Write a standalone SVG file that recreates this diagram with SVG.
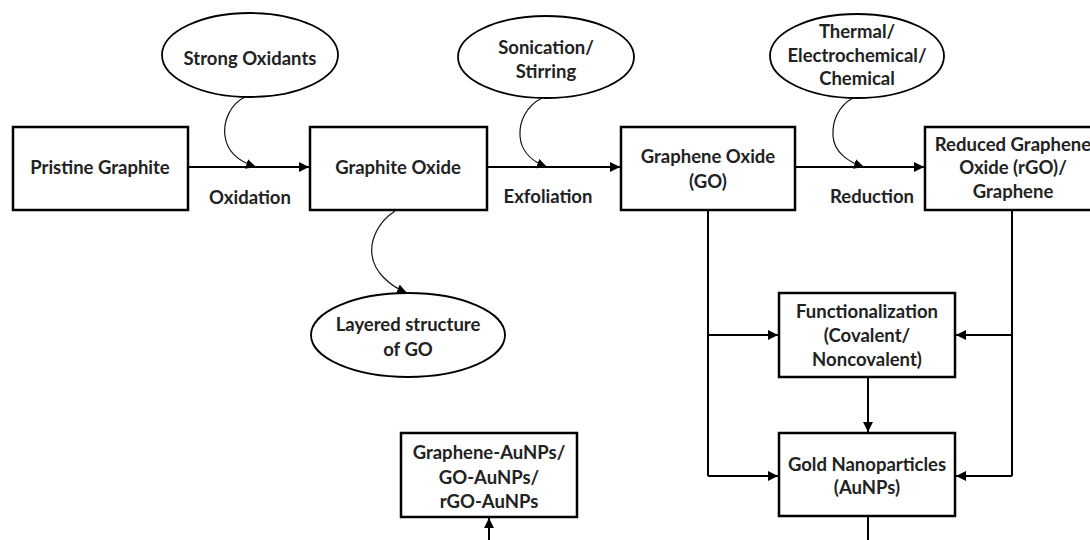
<svg xmlns="http://www.w3.org/2000/svg" width="1090" height="540" viewBox="0 0 1090 540">
<style>
.box{fill:#fff;stroke:#000;stroke-width:2.5}
.ell{fill:#fff;stroke:#000;stroke-width:1.8}
.t{font-family:Lato,"Open Sans",sans-serif;font-weight:bold;font-size:18.5px;fill:#222;text-anchor:middle}
.c{fill:none;stroke:#000;stroke-width:2}
.cv{fill:none;stroke:#111;stroke-width:1.2}
</style>
<defs>
<marker id="ah" viewBox="0 0 10 10" refX="10" refY="5" markerWidth="10" markerHeight="10" markerUnits="userSpaceOnUse" orient="auto"><path d="M0,0 L10,5 L0,10 z" fill="#000"/></marker>
</defs>
<rect width="1090" height="540" fill="#fff"/>
<g id="connectors">
<line class="c" x1="188" y1="167" x2="309" y2="167" marker-end="url(#ah)"/>
<line class="c" x1="487" y1="167" x2="620" y2="167" marker-end="url(#ah)"/>
<line class="c" x1="795" y1="167" x2="924" y2="167" marker-end="url(#ah)"/>
<path class="cv" d="M245,97 C230,104 223,122 225,136 C227,152 240,162 256,167" marker-end="url(#ah)"/>
<path class="cv" d="M542,98 C526,106 519,122 520,136 C521,152 533,162 547,167" marker-end="url(#ah)"/>
<path class="cv" d="M853,98 C838,106 832,122 833,136 C834,152 848,162 864,167" marker-end="url(#ah)"/>
<path class="cv" d="M395,211 C378,222 370,240 372,255 C374,272 390,286 407,293" marker-end="url(#ah)"/>
<polyline class="c" points="708,210 708,476"/>
<line class="c" x1="708" y1="335" x2="778" y2="335" marker-end="url(#ah)"/>
<line class="c" x1="708" y1="476" x2="778" y2="476" marker-end="url(#ah)"/>
<polyline class="c" points="1012,210 1012,476"/>
<line class="c" x1="1012" y1="335" x2="956" y2="335" marker-end="url(#ah)"/>
<line class="c" x1="1012" y1="476" x2="956" y2="476" marker-end="url(#ah)"/>
<line class="c" x1="868" y1="377" x2="868" y2="432" marker-end="url(#ah)"/>
<line class="c" x1="868" y1="516" x2="868" y2="540"/>
<line class="c" x1="489" y1="540" x2="489" y2="518" marker-end="url(#ah)"/>
</g>
<g id="pristine"><rect class="box" x="13" y="127" width="175" height="83"/><text class="t" x="100" y="174">Pristine Graphite</text></g>
<g id="graphite-oxide"><rect class="box" x="310" y="127" width="177" height="83"/><text class="t" x="398" y="174">Graphite Oxide</text></g>
<g id="graphene-oxide"><rect class="box" x="621" y="127" width="174" height="83"/><text class="t" x="708" y="163">Graphene Oxide</text><text class="t" x="708" y="188">(GO)</text></g>
<g id="rgo"><rect class="box" x="925" y="127" width="176" height="83"/><text class="t" x="1013" y="151">Reduced Graphene</text><text class="t" x="1013" y="174">Oxide (rGO)/</text><text class="t" x="1013" y="198">Graphene</text></g>
<g id="strong-oxidants"><ellipse class="ell" cx="250" cy="55" rx="88" ry="42"/><text class="t" x="250" y="65">Strong Oxidants</text></g>
<g id="sonication"><ellipse class="ell" cx="546" cy="57" rx="88" ry="41"/><text class="t" x="546" y="54">Sonication/</text><text class="t" x="546" y="78">Stirring</text></g>
<g id="thermal"><ellipse class="ell" cx="857" cy="56" rx="87" ry="42"/><text class="t" x="857" y="38">Thermal/</text><text class="t" x="857" y="62">Electrochemical/</text><text class="t" x="857" y="85">Chemical</text></g>
<g id="layered"><ellipse class="ell" cx="408" cy="335" rx="97" ry="42"/><text class="t" x="408" y="331">Layered structure</text><text class="t" x="408" y="356">of GO</text></g>
<g id="labels"><text class="t" x="250" y="204">Oxidation</text><text class="t" x="548" y="203">Exfoliation</text><text class="t" x="872" y="203">Reduction</text></g>
<g id="functionalization"><rect class="box" x="779" y="293" width="176" height="84"/><text class="t" x="867" y="318">Functionalization</text><text class="t" x="867" y="342">(Covalent/</text><text class="t" x="867" y="366">Noncovalent)</text></g>
<g id="aunps"><rect class="box" x="779" y="433" width="176" height="83"/><text class="t" x="867" y="471">Gold Nanoparticles</text><text class="t" x="867" y="494">(AuNPs)</text></g>
<g id="composites"><rect class="box" x="401" y="433" width="176" height="84"/><text class="t" x="489" y="459">Graphene-AuNPs/</text><text class="t" x="489" y="484">GO-AuNPs/</text><text class="t" x="489" y="508">rGO-AuNPs</text></g>
</svg>
